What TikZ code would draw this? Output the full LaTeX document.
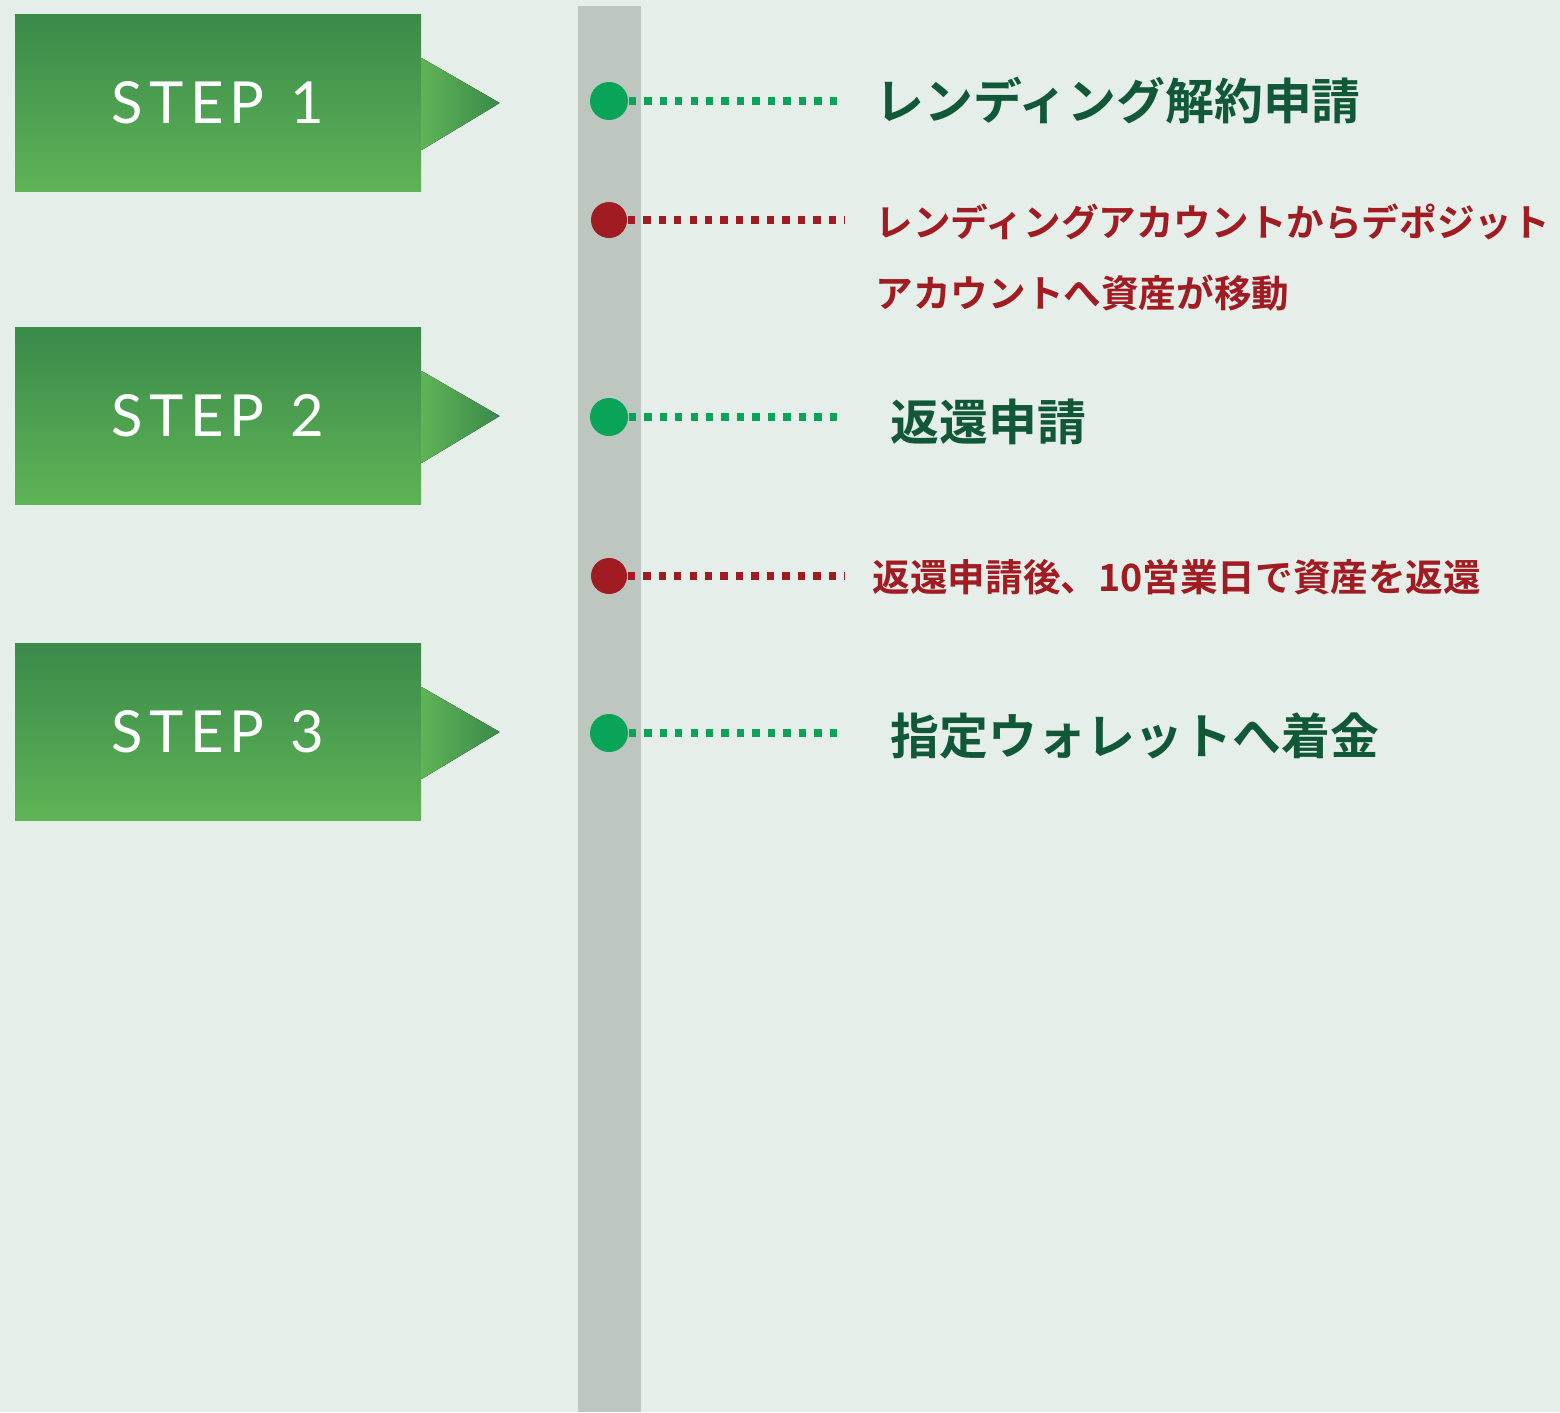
\documentclass[tikz,border=0pt]{standalone}
\usepackage{fontspec}
\usepackage{xcolor}
\usepackage{tikz}
\usetikzlibrary{calc,positioning}
\newfontfamily\jpfont{Noto Sans CJK JP Bold}
\newfontfamily\stepfont{Lato}[LetterSpace=11]
\definecolor{FondoClaro}{RGB}{230,238,233}
\definecolor{BarraGris}{RGB}{190,198,192}
\definecolor{PasoOscuro}{RGB}{58,138,74}
\definecolor{PasoClaro}{RGB}{94,180,86}
\definecolor{PuntoVerde}{RGB}{10,164,88}
\definecolor{PuntoRojo}{RGB}{160,28,34}
\definecolor{TextoVerde}{RGB}{16,88,56}
\tikzset{
    stepbox/.style={top color=PasoOscuro, bottom color=PasoClaro, text=white,
        minimum width=40.6mm, minimum height=17.7mm, inner sep=0,
        font=\stepfont\fontsize{16.5}{20}\selectfont},
    dotok/.style={circle, fill=PuntoVerde, minimum size=3.8mm, inner sep=0},
    dotwarn/.style={circle, fill=PuntoRojo, minimum size=3.6mm, inner sep=0},
    leader/.style={line width=2.1pt, dash pattern=on 2.1pt off 2.3pt},
    bigtext/.style={text=TextoVerde, inner sep=0, anchor=base west,
        font=\jpfont\fontsize{13.9}{16}\selectfont},
    smalltext/.style={text=PuntoRojo, inner sep=0, anchor=base west, align=left,
        font=\jpfont\fontsize{10.7}{20.2}\selectfont}
}

\begin{document}
\begin{tikzpicture}[x=0.1mm, y=-0.1mm]
    \fill[FondoClaro] (0,0) rectangle (1560,1412);
    \useasboundingbox (0,0) rectangle (1560,1412);
    \fill[BarraGris] (578,6) rectangle (641,1412);

    % pasos
    \foreach \n/\y in {1/103, 2/416, 3/732} {
        \node[stepbox] (s\n) at (218,\y) {STEP\hspace{0.45em}\n};
        \fill[left color=PasoClaro, right color=PasoOscuro]
            (s\n.east) ++(0,-45) -- ++(78,45) -- ++(-78,47) -- cycle;
    }

    % puntos de la linea
    \node[dotok]   (d1) at (609,101) {};
    \node[dotwarn] (d2) at (609,220) {};
    \node[dotok]   (d3) at (609,417) {};
    \node[dotwarn] (d4) at (609,576) {};
    \node[dotok]   (d5) at (609,733) {};

    \coordinate (e1) at (845,101);
    \coordinate (e2) at (845,220);
    \coordinate (e3) at (845,417);
    \coordinate (e4) at (845,576);
    \coordinate (e5) at (845,733);

    \draw[leader,PuntoVerde] (d1.east) -- (e1);
    \draw[leader,PuntoRojo]  (d2.east) -- (e2);
    \draw[leader,PuntoVerde] (d3.east) -- (e3);
    \draw[leader,PuntoRojo]  (d4.east) -- (e4);
    \draw[leader,PuntoVerde] (d5.east) -- (e5);

    \node[bigtext]   (t1) at (875,119) {レンディング解約申請};
    \node[smalltext] (t2) at (875,307)
        {レンディングアカウントからデポジット\\アカウントへ資産が移動};
    \node[bigtext]   (t3) at (890,440) {返還申請};
    \node[smalltext] (t4) at (872,591) {返還申請後、10営業日で資産を返還};
    \node[bigtext]   (t5) at (890,754) {指定ウォレットへ着金};
\end{tikzpicture}
\end{document}
